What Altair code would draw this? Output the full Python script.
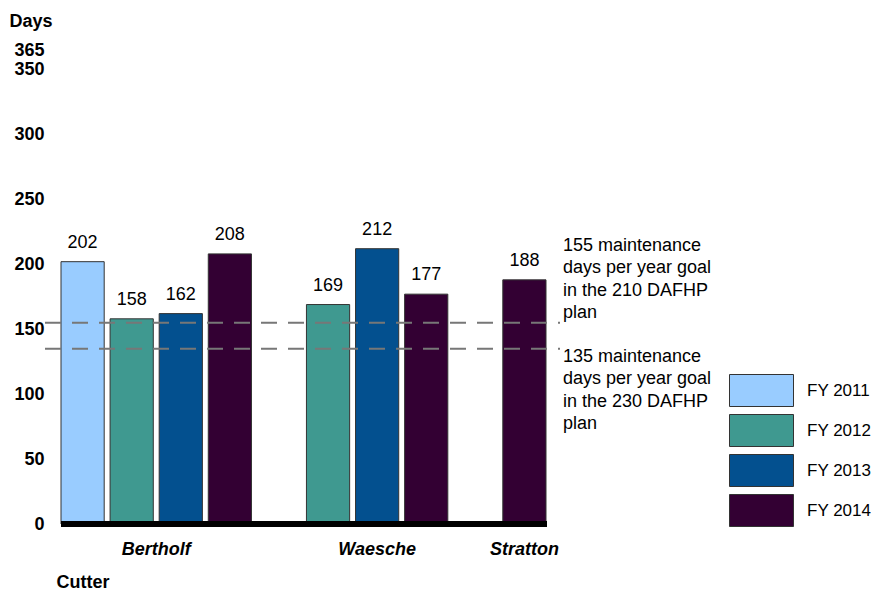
import altair as alt
import pandas as pd

# ---- data ----
cutters = ["Bertholf", "Bertholf", "Bertholf", "Bertholf", "Waesche", "Waesche", "Waesche", "Stratton"]
years = ["FY 2011", "FY 2012", "FY 2013", "FY 2014", "FY 2012", "FY 2013", "FY 2014", "FY 2014"]
days = [202, 158, 162, 208, 169, 212, 177, 188]

year_domain = ["FY 2011", "FY 2012", "FY 2013", "FY 2014"]
year_colors = ["#99CCFF", "#3F9990", "#03508F", "#330033"]

goal_values = [155, 135]
goal_texts = [
    "155 maintenance\ndays per year goal\nin the 210 DAFHP\nplan",
    "135 maintenance\ndays per year goal\nin the 230 DAFHP\nplan",
]

y_ticks = [0, 50, 100, 150, 200, 250, 300, 350, 365]

FONT = "Liberation Sans"
FS = 18
W, H = 485, 474

# ---- tables ----
df = pd.DataFrame({"cutter": cutters, "year": years, "days": days})
df["slot"] = df["cutter"] + " " + df["year"]

slot_domain = []
group_order = []
for c in cutters:
    if c not in group_order:
        group_order.append(c)
for i, c in enumerate(group_order):
    if i > 0:
        slot_domain.append(f"gap{i}")
    slot_domain.extend(df.loc[df["cutter"] == c, "slot"].tolist())

# group label anchors
even_rows, odd_rows = [], []
for c in group_order:
    s = df.loc[df["cutter"] == c, "slot"].tolist()
    n = len(s)
    if n % 2 == 0:
        even_rows.append({"cutter": c, "slot": s[n // 2]})
    else:
        odd_rows.append({"cutter": c, "slot": s[n // 2]})
even_df = pd.DataFrame(even_rows)
odd_df = pd.DataFrame(odd_rows)

goal_df = pd.DataFrame({"goal": goal_values, "text": goal_texts})

xscale = alt.Scale(domain=slot_domain, paddingInner=0.12, paddingOuter=0)
yscale = alt.Scale(domain=[0, 365], nice=False, zero=True)

base = alt.Chart(df)

bars = base.mark_bar(stroke="#333333", strokeWidth=1).encode(
    x=alt.X("slot:N", scale=xscale, sort=slot_domain,
            axis=alt.Axis(labels=False, ticks=False, domain=False, title="Cutter",
                          titleAngle=0, titleX=-5, titleY=63, titleAlign="left",
                          titleBaseline="alphabetic", titleFont=FONT, titleFontSize=FS,
                          titleFontWeight="bold", titleColor="black")),
    y=alt.Y("days:Q", scale=yscale,
            axis=alt.Axis(values=y_ticks, ticks=False, domain=False, grid=False,
                          labelFont=FONT, labelFontSize=FS, labelFontWeight="bold",
                          labelColor="black", labelPadding=17, labelOverlap=False,
                          title="Days", titleAngle=0, titleX=-52, titleY=-24,
                          titleAlign="left", titleBaseline="alphabetic", titleFont=FONT,
                          titleFontSize=FS, titleFontWeight="bold", titleColor="black")),
    color=alt.Color("year:N", scale=alt.Scale(domain=year_domain, range=year_colors),
                    legend=alt.Legend(title=None, orient="none", legendX=684, legendY=324,
                                      symbolType="M-2,-1H2V1H-2Z", symbolSize=1024,
                                      symbolStrokeColor="#333333", symbolStrokeWidth=1,
                                      symbolOpacity=1, rowPadding=3, labelOffset=29,
                                      labelFont=FONT, labelFontSize=17, labelColor="black",
                                      padding=0)),
)

values = base.mark_text(font=FONT, fontSize=FS, color="black", baseline="bottom", dy=-10).encode(
    x=alt.X("slot:N", scale=xscale, sort=slot_domain),
    y=alt.Y("days:Q", scale=yscale),
    text="days:Q",
)

baseline = alt.Chart(df).mark_rule(color="black", strokeWidth=5).encode(
    y=alt.datum(0), x=alt.value(0), x2=alt.value(W + 1)
)

goals = alt.Chart(goal_df).mark_rule(color="#777777", strokeWidth=2, strokeDash=[16, 11]).encode(
    y=alt.Y("goal:Q", scale=yscale), x=alt.value(-16), x2=alt.value(W + 14)
)

goal_top = alt.Chart(goal_df.iloc[[0]]).mark_text(
    font=FONT, fontSize=FS, color="black", align="left", baseline="middle",
    lineBreak="\n", lineHeight=22.5, dy=-77
).encode(y=alt.Y("goal:Q", scale=yscale), x=alt.value(W + 17), text="text:N")

goal_bottom = alt.Chart(goal_df.iloc[[1]]).mark_text(
    font=FONT, fontSize=FS, color="black", align="left", baseline="middle",
    lineBreak="\n", lineHeight=22.5, dy=8
).encode(y=alt.Y("goal:Q", scale=yscale), x=alt.value(W + 17), text="text:N")

glabel_even = alt.Chart(even_df).mark_text(
    font=FONT, fontSize=FS, fontWeight="bold", fontStyle="italic", color="black",
    baseline="middle", dy=26, dx=-3
).encode(x=alt.X("slot:N", scale=xscale, sort=slot_domain, bandPosition=0),
         y=alt.datum(0), text="cutter:N")

glabel_odd = alt.Chart(odd_df).mark_text(
    font=FONT, fontSize=FS, fontWeight="bold", fontStyle="italic", color="black",
    baseline="middle", dy=26
).encode(x=alt.X("slot:N", scale=xscale, sort=slot_domain, bandPosition=0.5),
         y=alt.datum(0), text="cutter:N")

chart = alt.layer(
    bars, values, goals, baseline, goal_top, goal_bottom, glabel_even, glabel_odd
).properties(
    width=W, height=H,
    autosize=alt.AutoSizeParams(type="none"),
    padding={"left": 53, "top": 42, "right": 863 - 53 - W, "bottom": 582 - 42 - H},
).configure(background="white", view={"stroke": "transparent"})

chart.save("out.html", embed_options={"renderer": "svg", "actions": False})
